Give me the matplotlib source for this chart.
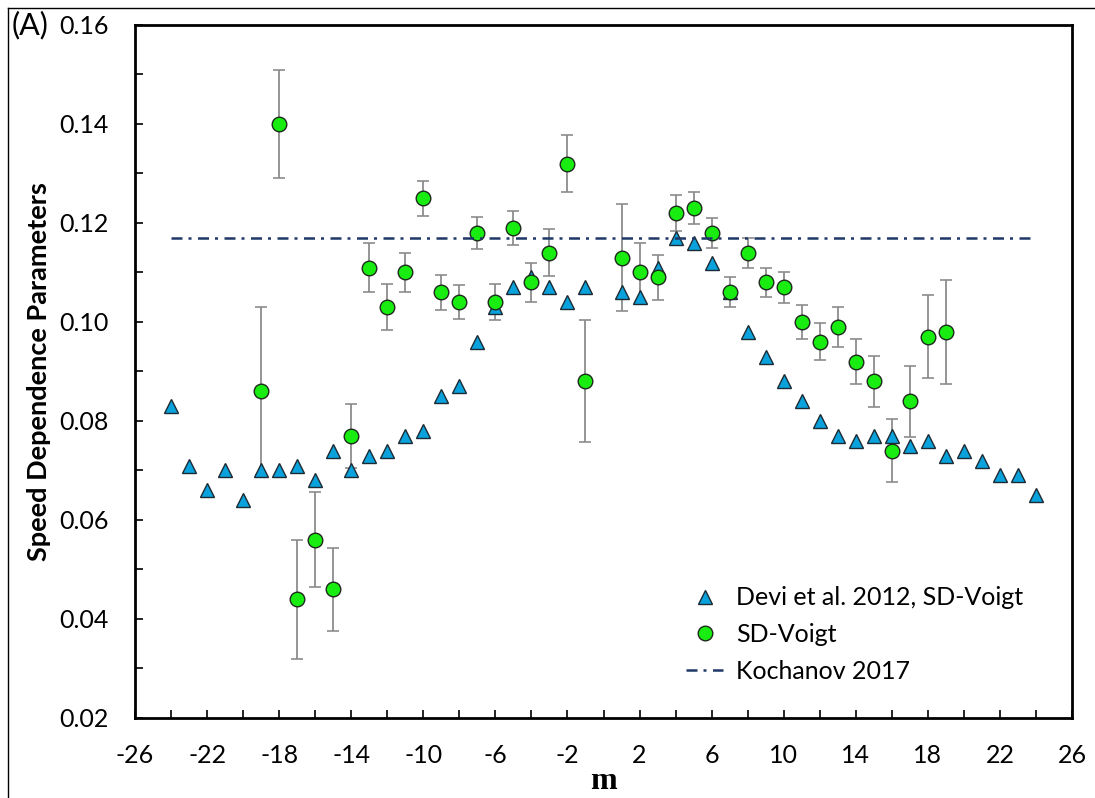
import matplotlib
matplotlib.use('Agg')
import matplotlib.pyplot as plt
from matplotlib.lines import Line2D
from matplotlib.ticker import MultipleLocator, FormatStrFormatter

plt.rcParams['font.family'] = ['Lato', 'DejaVu Sans']
plt.rcParams['axes.unicode_minus'] = False

# Devi et al. 2012, SD-Voigt
m_devi = [-24, -23, -22, -21, -20, -19, -18, -17, -16, -15, -14, -13, -12, -11, -10, -9, -8,
          -7, -6, -5, -4, -3, -2, -1, 1, 2, 3, 4, 5, 6, 7, 8, 9, 10, 11, 12, 13, 14, 15, 16,
          17, 18, 19, 20, 21, 22, 23, 24]
sd_devi = [0.083, 0.071, 0.066, 0.070, 0.064, 0.070, 0.070, 0.071, 0.068, 0.074, 0.070, 0.073,
           0.074, 0.077, 0.078, 0.085, 0.087, 0.096, 0.103, 0.107, 0.109, 0.107, 0.104, 0.107,
           0.106, 0.105, 0.111, 0.117, 0.116, 0.112, 0.106, 0.098, 0.093, 0.088, 0.084, 0.080,
           0.077, 0.076, 0.077, 0.077, 0.075, 0.076, 0.073, 0.074, 0.072, 0.069, 0.069, 0.065]

# this work, SD-Voigt with uncertainties
m_fit = [-19, -18, -17, -16, -15, -14, -13, -12, -11, -10, -9, -8, -7, -6, -5, -4, -3, -2, -1,
         1, 2, 3, 4, 5, 6, 7, 8, 9, 10, 11, 12, 13, 14, 15, 16, 17, 18, 19]
sd_fit = [0.086, 0.140, 0.044, 0.056, 0.046, 0.077, 0.111, 0.103, 0.110, 0.125, 0.106, 0.104,
          0.118, 0.104, 0.119, 0.108, 0.114, 0.132, 0.088, 0.113, 0.110, 0.109, 0.122, 0.123,
          0.118, 0.106, 0.114, 0.108, 0.107, 0.100, 0.096, 0.099, 0.092, 0.088, 0.074, 0.084,
          0.097, 0.098]
sd_err = [0.017, 0.011, 0.012, 0.0096, 0.0084, 0.0065, 0.005, 0.0046, 0.004, 0.0035, 0.0035,
          0.0035, 0.0033, 0.0036, 0.0035, 0.004, 0.0047, 0.0058, 0.0123, 0.0108, 0.006, 0.0045,
          0.0036, 0.0032, 0.003, 0.003, 0.003, 0.003, 0.0031, 0.0034, 0.0037, 0.004, 0.0046,
          0.0052, 0.0063, 0.0072, 0.0084, 0.0105]

# Kochanov 2017 constant value
m_koch = [-24, 24]
sd_koch = [0.117, 0.117]

fig = plt.figure(figsize=(10.95, 7.98), dpi=100)
ax = fig.add_axes([0.1233, 0.1003, 0.8557, 0.8684])

ax.errorbar(m_fit, sd_fit, yerr=sd_err, fmt='none', ecolor='#8c8c8c', elinewidth=1.3,
            capsize=4, capthick=1.2, zorder=2)
ax.plot(m_devi, sd_devi, linestyle='none', marker='^', markersize=10,
        markerfacecolor='#0aa2dc', markeredgecolor='#1c2a33', markeredgewidth=1.0,
        label='Devi et al. 2012, SD-Voigt', zorder=3)
ax.plot(m_fit, sd_fit, linestyle='none', marker='o', markersize=10.5,
        markerfacecolor='#18ec10', markeredgecolor='#1c2a1c', markeredgewidth=1.0,
        label='SD-Voigt', zorder=4)
ax.plot(m_koch, sd_koch, color='#1f3868', lw=1.8, linestyle=(0, (4.4, 2.4, 1.2, 2.6)),
        label='Kochanov 2017', zorder=5)

ax.set_xlim(-26, 26)
ax.set_ylim(0.02, 0.16)
ax.xaxis.set_major_locator(MultipleLocator(4))
ax.xaxis.set_minor_locator(MultipleLocator(2))
ax.yaxis.set_major_locator(MultipleLocator(0.02))
ax.yaxis.set_minor_locator(MultipleLocator(0.01))
ax.yaxis.set_major_formatter(FormatStrFormatter('%.2f'))
ax.set_xticks(range(-26, 27, 4))
ax.tick_params(which='both', direction='in', length=6, width=1.2, labelsize=18, pad=19)
for s in ax.spines.values():
    s.set_linewidth(2)

ax.set_xlabel('m', fontsize=23, fontweight='bold', family='Liberation Serif', labelpad=0)
ax.set_ylabel('Speed Dependence Parameters', fontsize=19.5, fontweight='bold', labelpad=6)

ax.legend(loc='upper left', bbox_to_anchor=(0.588, 0.19), frameon=False, fontsize=18,
          borderpad=0, borderaxespad=0, handlelength=1.5, handletextpad=0.5,
          labelspacing=0.55)

fig.text(0.011, 0.968, '(A)', fontsize=22, va='center', ha='left')

# outer frame of the original panel (top and left edges)
fig.add_artist(Line2D([0.007, 1.0], [0.99, 0.99], transform=fig.transFigure, color='black', lw=1))
fig.add_artist(Line2D([0.007, 0.007], [0.0, 0.99], transform=fig.transFigure, color='black', lw=1))

fig.savefig('out.png', dpi=100)
